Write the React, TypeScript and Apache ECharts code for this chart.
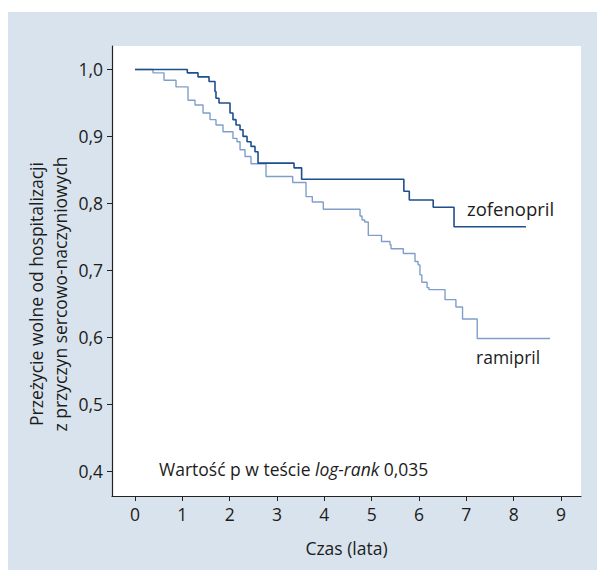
import React, { useEffect, useRef } from "react";
import * as echarts from "echarts";

// Kaplan-Meier steps: time (years) and survival after step
const zofTimes = [0, 1.105, 1.331, 1.564, 1.69, 1.711, 1.775, 2.007, 2.07, 2.134, 2.219, 2.282, 2.367, 2.451, 2.535, 2.599, 3.36, 3.52, 5.68, 5.795, 6.3, 6.74, 8.26];
const zofSurv = [1.0, 0.995, 0.989, 0.982, 0.967, 0.957, 0.95, 0.935, 0.925, 0.917, 0.91, 0.9, 0.892, 0.885, 0.877, 0.86, 0.853, 0.836, 0.818, 0.805, 0.794, 0.765, 0.765];

const ramTimes = [0, 0.38, 0.613, 0.866, 1.12, 1.268, 1.437, 1.585, 1.711, 1.859, 2.07, 2.155, 2.219, 2.324, 2.451, 2.768, 3.332, 3.613, 3.746, 3.978, 4.754, 4.796, 4.853, 4.929, 5.208, 5.388, 5.409, 5.669, 5.916, 5.98, 6.02, 6.06, 6.17, 6.21, 6.55, 6.78, 6.92, 7.23, 8.77];
const ramSurv = [1.0, 0.995, 0.984, 0.974, 0.954, 0.947, 0.935, 0.925, 0.917, 0.907, 0.897, 0.892, 0.88, 0.87, 0.859, 0.84, 0.831, 0.81, 0.802, 0.791, 0.781, 0.775, 0.772, 0.752, 0.743, 0.738, 0.732, 0.725, 0.713, 0.708, 0.693, 0.682, 0.674, 0.671, 0.656, 0.645, 0.627, 0.598, 0.598];

const xTicks = [0, 1, 2, 3, 4, 5, 6, 7, 8, 9];
const yTicks = [0.4, 0.5, 0.6, 0.7, 0.8, 0.9, 1.0];

const seriesNames = ["zofenopril", "ramipril"];
const yAxisTitle = ["Przeżycie wolne od hospitalizacji", "z przyczyn sercowo-naczyniowych"];
const xAxisTitle = "Czas (lata)";

const FONT = "Open Sans";
const TEXT = "#1c1c1c";
const DARK = "#1d4f8e";
const LIGHT = "#7f9fca";

export default function App() {
  const ref = useRef<HTMLDivElement>(null);
  useEffect(() => {
    if (!ref.current) return;
    const chart = echarts.init(ref.current, undefined, { renderer: "svg" });
    const zof = zofTimes.map((t, i) => [t, zofSurv[i]]);
    const ram = ramTimes.map((t, i) => [t, ramSurv[i]]);
    chart.setOption({
      animation: false,
      backgroundColor: "#d9e3ed",
      textStyle: { fontFamily: FONT },
      grid: {
        left: 104,
        top: 34,
        right: 24,
        bottom: 74,
        show: true,
        backgroundColor: "#ffffff",
        borderWidth: 0,
      },
      xAxis: {
        type: "value",
        min: -0.486,
        max: 9.4226,
        splitLine: { show: false },
        axisLine: { onZero: false, lineStyle: { color: "#222", width: 1.2 } },
        axisTick: { show: true, length: 5, customValues: xTicks, lineStyle: { color: "#222" } },
        axisLabel: {
          customValues: xTicks,
          color: TEXT,
          fontSize: 17.5,
          fontFamily: FONT,
          margin: 9,
        },
        name: xAxisTitle,
        nameLocation: "middle",
        nameGap: 43,
        nameTextStyle: { color: TEXT, fontSize: 17.5, fontFamily: FONT },
      },
      yAxis: {
        type: "value",
        min: 0.3625,
        max: 1.0351,
        splitLine: { show: false },
        axisLine: { show: true, onZero: false, lineStyle: { color: "#222", width: 1.2 } },
        axisTick: { show: true, length: 5, customValues: yTicks, lineStyle: { color: "#222" } },
        axisLabel: {
          customValues: yTicks,
          color: TEXT,
          fontSize: 17.5,
          fontFamily: FONT,
          margin: 9,
          formatter: (v: number) => v.toFixed(1).replace(".", ","),
        },
      },
      graphic: [
        {
          type: "text",
          x: 39.5,
          y: 282,
          rotation: Math.PI / 2,
          style: {
            text: yAxisTitle.join("\n"),
            fontSize: 17.5,
            fontFamily: FONT,
            fill: TEXT,
            align: "center",
            verticalAlign: "middle",
            lineHeight: 24,
          },
        },
        {
          type: "text",
          x: 459,
          y: 196,
          style: { text: seriesNames[0], fontSize: 18.5, fontFamily: FONT, fill: TEXT, verticalAlign: "middle" },
        },
        {
          type: "text",
          x: 468,
          y: 345,
          style: { text: seriesNames[1], fontSize: 17.5, fontFamily: FONT, fill: TEXT, verticalAlign: "middle" },
        },
        {
          type: "text",
          x: 151,
          y: 457,
          style: {
            text: "{a|Wartość p w teście }{b|log-rank}{a| 0,035}",
            verticalAlign: "middle",
            rich: {
              a: { fontSize: 17.5, fontFamily: FONT, fill: TEXT, color: TEXT },
              b: { fontSize: 17.5, fontFamily: FONT, fill: TEXT, color: TEXT, fontStyle: "italic" },
            },
          },
        },
      ],
      series: [
        {
          name: seriesNames[1],
          type: "line",
          step: "end",
          data: ram,
          showSymbol: false,
          lineStyle: { color: LIGHT, width: 1.4 },
          z: 2,
        },
        {
          name: seriesNames[0],
          type: "line",
          step: "end",
          data: zof,
          showSymbol: false,
          lineStyle: { color: DARK, width: 1.6 },
          z: 3,
        },
      ],
    });
    return () => chart.dispose();
  }, []);
  return <div ref={ref} style={{ width: 597, height: 558, marginTop: 4 }} />;
}
